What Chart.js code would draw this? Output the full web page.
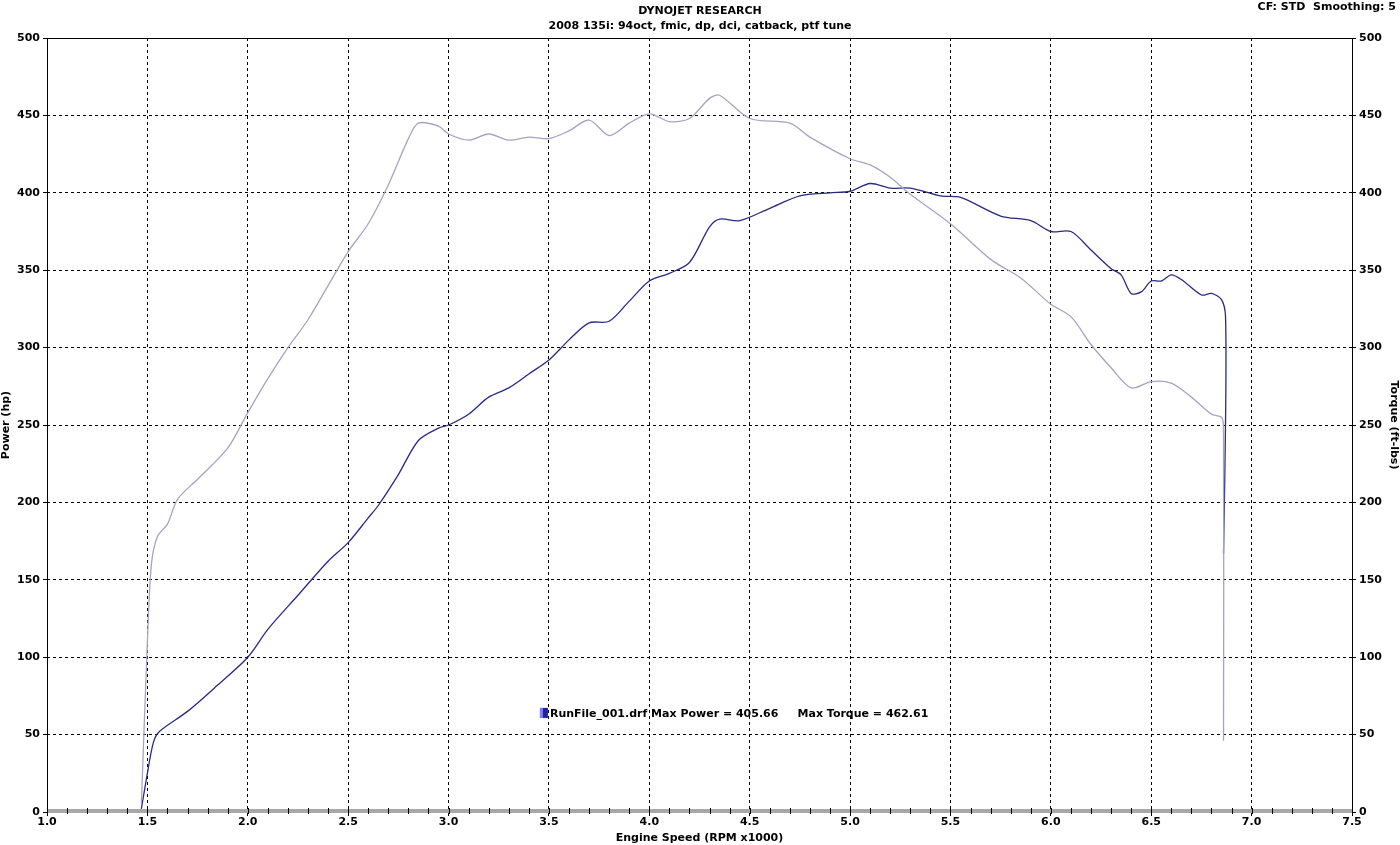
<!DOCTYPE html>
<html>
<head>
<meta charset="utf-8">
<script src="https://cdn.jsdelivr.net/npm/chart.js@4.4.0/dist/chart.umd.min.js"></script>
<style>
  html, body { margin: 0; padding: 0; background: #fff; }
  #wrap { width: 1400px; height: 845px; }
</style>
</head>
<body>
<div id="wrap"><canvas id="dyno"></canvas></div>
<script>
// dyno run: power (hp) and torque (ft-lbs) vs rpm x1000
const powerRpm = [1.47, 1.50, 1.53, 1.56, 1.70, 1.85, 2.00, 2.10, 2.25, 2.40, 2.50, 2.60, 2.65, 2.75, 2.85, 2.95, 3.00, 3.10, 3.20, 3.30, 3.40, 3.50, 3.60, 3.70, 3.80, 3.90, 4.00, 4.10, 4.20, 4.30, 4.35, 4.45, 4.60, 4.75, 4.90, 5.00, 5.10, 5.20, 5.30, 5.45, 5.55, 5.75, 5.90, 6.00, 6.10, 6.20, 6.30, 6.35, 6.40, 6.45, 6.50, 6.55, 6.60, 6.65, 6.75, 6.80, 6.85, 6.87, 6.87, 6.86];
const powerHp = [2, 25, 45, 52, 65, 82, 100, 118, 140, 162, 174, 190, 198, 218, 240, 248, 250, 257, 268, 274, 283, 292, 305, 316, 317, 330, 343, 348, 355, 378, 383, 382, 390, 398, 400, 401, 406, 403, 403, 398, 397, 385, 382, 375, 375, 363, 351, 347, 335, 336, 343, 343, 347, 344, 334, 335, 331, 320, 250, 167];

const torqueRpm = [1.47, 1.50, 1.52, 1.55, 1.60, 1.65, 1.75, 1.90, 2.00, 2.10, 2.20, 2.30, 2.40, 2.50, 2.60, 2.70, 2.80, 2.85, 2.95, 3.00, 3.10, 3.20, 3.30, 3.40, 3.50, 3.60, 3.70, 3.80, 3.90, 4.00, 4.10, 4.20, 4.30, 4.35, 4.50, 4.70, 4.80, 5.00, 5.10, 5.20, 5.30, 5.50, 5.70, 5.85, 6.00, 6.10, 6.20, 6.30, 6.40, 6.50, 6.60, 6.70, 6.80, 6.85, 6.86, 6.86];
const torqueFtLb = [5, 110, 160, 178, 186, 202, 215, 235, 258, 280, 300, 318, 340, 362, 380, 405, 435, 445, 443, 438, 434, 438, 434, 436, 435, 440, 447, 437, 445, 451, 446, 448, 461, 463, 448, 445, 436, 422, 418, 410, 399, 380, 357, 345, 328, 320, 302, 287, 274, 278, 277, 268, 257, 255, 248, 46];

const xTicks = [1.0, 1.5, 2.0, 2.5, 3.0, 3.5, 4.0, 4.5, 5.0, 5.5, 6.0, 6.5, 7.0, 7.5];
const yTicks = [0, 50, 100, 150, 200, 250, 300, 350, 400, 450, 500];

const titleMain = 'DYNOJET RESEARCH';
const titleSub = '2008 135i: 94oct, fmic, dp, dci, catback, ptf tune';
const cornerNote = 'CF: STD  Smoothing: 5';
const legendText = 'RunFile_001.drf Max Power = 405.66     Max Torque = 462.61';

const toXY = (xs, ys) => xs.map((x, i) => ({ x, y: ys[i] }));

const decor = {
  id: 'decor',
  afterDraw(chart) {
    const { ctx, chartArea: a, scales } = chart;
    ctx.save();
    ctx.fillStyle = '#000';
    ctx.textAlign = 'center';
    ctx.font = 'bold 11px "DejaVu Sans"';
    ctx.fillText(titleMain, 700, 14);
    ctx.fillText(titleSub, 700, 29);
    ctx.textAlign = 'right';
    ctx.fillText(cornerNote, 1396, 10);
    // frame
    ctx.strokeStyle = '#000';
    ctx.lineWidth = 1;
    ctx.strokeRect(a.left + 0.5, a.top + 0.5, a.right - a.left, a.bottom - a.top);
    // bottom gray bar
    ctx.fillStyle = '#a8a8a8';
    ctx.fillRect(a.left, a.bottom - 3, a.right - a.left, 4);
    // minor ticks on x
    ctx.strokeStyle = '#000';
    for (let v = 1.0; v <= 7.5001; v += 0.1) {
      const px = Math.round(scales.x.getPixelForValue(v)) + 0.5;
      ctx.beginPath(); ctx.moveTo(px, a.bottom - 4); ctx.lineTo(px, a.bottom + 2); ctx.stroke();
    }
    // legend box
    const lx = scales.x.getPixelForValue(3.495);
    const ly = scales.y.getPixelForValue(64);
    ctx.fillStyle = '#2020a0';
    ctx.fillRect(lx - 8, ly - 5, 8, 10);
    ctx.fillStyle = '#8080ff';
    ctx.fillRect(lx - 8, ly - 5, 3, 10);
    ctx.fillStyle = '#000';
    ctx.textAlign = 'left';
    ctx.textBaseline = 'middle';
    ctx.fillText(legendText, lx + 2, ly + 1);
    ctx.restore();
  }
};

const gridOpts = { color: '#000', lineWidth: 1, drawTicks: true, tickLength: 4, tickColor: '#000' };
const tickFont = { family: 'DejaVu Sans', size: 11, weight: 'bold' };

new Chart(document.getElementById('dyno'), {
  type: 'line',
  data: {
    datasets: [
      {
        label: 'Torque',
        data: toXY(torqueRpm, torqueFtLb),
        borderColor: '#a4a4c4',
        borderWidth: 1.3,
        pointRadius: 0,
        tension: 0.3,
        yAxisID: 'y2',
      },
      {
        label: 'Power',
        data: toXY(powerRpm, powerHp),
        borderColor: '#2a2a82',
        borderWidth: 1.3,
        pointRadius: 0,
        tension: 0.3,
        yAxisID: 'y',
      },
    ],
  },
  options: {
    responsive: true,
    maintainAspectRatio: false,
    animation: false,
    layout: { padding: { top: 38, right: 0, left: 0, bottom: 0 } },
    plugins: { legend: { display: false }, tooltip: { enabled: false } },
    scales: {
      x: {
        type: 'linear', min: 1.0, max: 7.5,
        afterBuildTicks: (s) => { s.ticks = xTicks.map(v => ({ value: v })); },
        grid: gridOpts,
        border: { display: false, dash: [3, 3] },
        ticks: { color: '#000', font: tickFont, padding: 0, maxRotation: 0, callback: v => v.toFixed(1) },
        title: { display: true, text: 'Engine Speed (RPM x1000)', color: '#000', font: tickFont, padding: 0 },
        afterFit: (s) => { s.height = 33; },
      },
      y: {
        min: 0, max: 500, position: 'left',
        afterBuildTicks: (s) => { s.ticks = yTicks.map(v => ({ value: v })); },
        grid: gridOpts,
        border: { display: false, dash: [3, 3] },
        ticks: { color: '#000', font: tickFont, padding: 3 },
        title: { display: true, text: 'Power (hp)', color: '#000', font: tickFont, padding: 0 },
        afterFit: (s) => { s.width = 47; },
      },
      y2: {
        min: 0, max: 500, position: 'right',
        afterBuildTicks: (s) => { s.ticks = yTicks.map(v => ({ value: v })); },
        grid: { drawOnChartArea: false, tickLength: 4, tickColor: '#000' },
        border: { display: false },
        ticks: { color: '#000', font: tickFont, padding: 3 },
        title: { display: true, text: 'Torque (ft-lbs)', color: '#000', font: tickFont, padding: 0 },
        afterFit: (s) => { s.width = 48; },
      },
    },
  },
  plugins: [decor],
});
</script>
</body>
</html>
